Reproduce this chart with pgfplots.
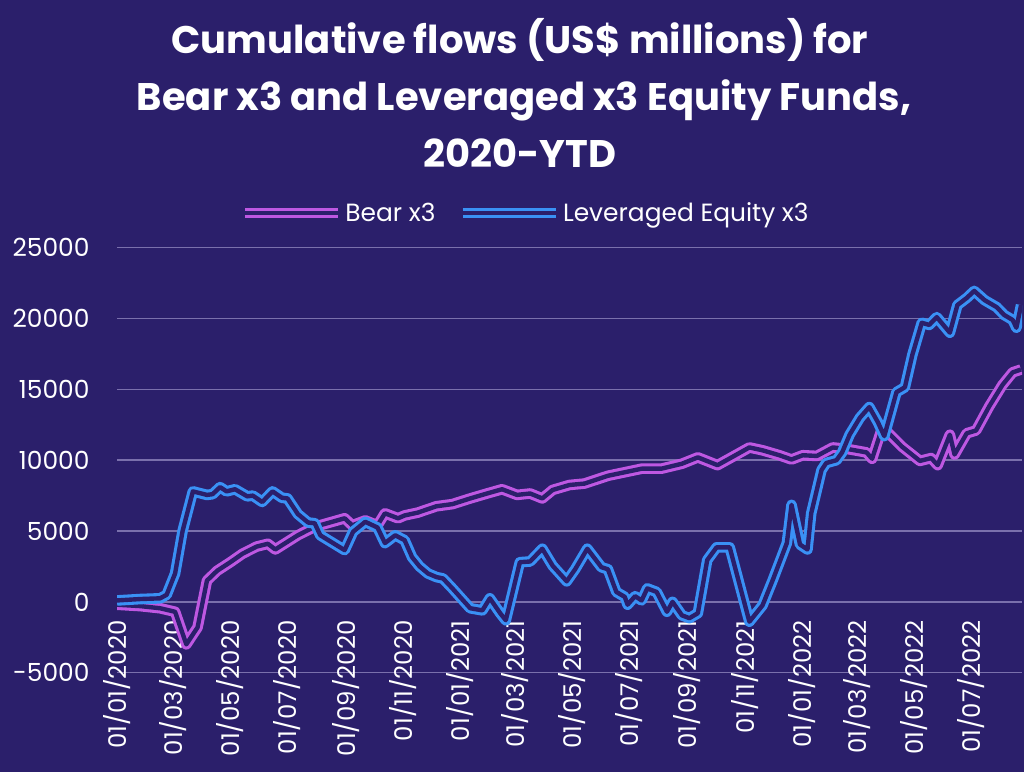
\documentclass[border=0pt]{standalone}
\usepackage{pgfplots}
\pgfplotsset{compat=1.18}
\usepackage{pgfplotstable}
\usepackage{fontspec}
\setmainfont{Poppins}[Ligatures=NoCommon]
\definecolor{bg}{RGB}{43,31,107}
\definecolor{bearc}{RGB}{190,88,226}
\definecolor{levc}{RGB}{58,145,245}
\definecolor{gridc}{RGB}{122,112,172}

\pgfplotstableread{
day value
0 -200
25 -300
46 -450
62 -700
74 -3000
86 -1800
96 1500
107 2200
121 2800
134 3400
149 3900
161 4100
169 3700
193 4700
211 5300
243 5900
251 5400
265 5750
278 5400
286 6250
300 5900
307 6100
321 6300
341 6750
358 6900
377 7300
395 7650
411 7950
427 7550
441 7650
454 7300
465 7900
483 8250
499 8350
524 8900
560 9400
581 9400
603 9750
620 10200
641 9650
656 10200
675 10900
689 10700
707 10350
720 10050
732 10350
747 10300
764 10900
779 10800
800 10550
806 10100
817 12350
838 10950
857 9950
869 10150
876 9650
889 11800
894 10400
907 11900
917 12100
931 13800
945 15300
956 16200
965 16400
}\bear

\pgfplotstableread{
day value
0 100
25 200
46 250
53 500
62 2000
70 5000
81 7800
96 7550
102 7600
110 8100
117 7800
126 7950
139 7450
145 7500
155 7050
166 7800
176 7350
182 7300
193 6200
204 5600
211 5550
217 4700
243 3650
252 4950
265 5650
278 5250
286 4150
297 4700
307 4350
315 3150
323 2500
332 2000
341 1750
348 1650
358 950
377 -450
390 -600
398 250
409 -800
415 -1300
430 2800
441 2850
454 3750
465 2550
480 1450
489 2300
502 3750
517 2450
524 2300
533 700
542 350
545 -200
553 400
560 100
566 950
576 700
587 -700
593 0
603 -950
611 -1150
620 -800
630 2950
640 3850
654 3850
675 -1400
689 -250
700 1550
715 4150
720 6850
729 4050
737 3700
741 6250
752 9300
757 9800
768 10000
774 10550
782 11800
793 13000
803 13750
812 12700
819 11700
832 14800
841 15150
849 17450
859 19700
867 19550
875 20100
889 19000
897 20950
907 21450
915 21950
926 21300
939 20800
947 20250
956 19900
960 19350
965 20950
}\lev

\begin{document}
\begin{tikzpicture}
\useasboundingbox (0,0) rectangle (1024bp,772bp);
\fill[bg] (0,0) rectangle (1024bp,772bp);
\node[anchor=base, text=white, font=\fontsize{38.6}{46}\selectfont\bfseries] at (520bp,718bp) {Cumulative f\kern0pt lows (US\$ millions) for};
\node[anchor=base, text=white, font=\fontsize{38.6}{46}\selectfont\bfseries] at (524bp,661bp) {Bear x3 and Leveraged x3 Equity Funds,};
\node[anchor=base, text=white, font=\fontsize{38.6}{46}\selectfont\bfseries] at (520bp,604bp) {2020-YTD};
\begin{axis}[
  at={(117bp,99.3bp)}, anchor=south west,
  scale only axis, width=905bp, height=425bp,
  xmin=0, xmax=966, ymin=-5000, ymax=25000,
  axis x line=middle, axis y line=left,
  axis line style={draw=none},
  hide obscured x ticks=false, hide obscured y ticks=false,
  scaled y ticks=false, scaled x ticks=false,
  major tick length=0pt,
  ytick={-5000,0,5000,10000,15000,20000,25000},
  yticklabels={-5000,0,5000,10000,15000,20000,25000},
  xtick={0,60,121,182,244,305,366,425,486,547,609,670,731,790,851,912},
  xticklabels={01/01/2020,01/03/2020,01/05/2020,01/07/2020,01/09/2020,01/11/2020,01/01/2021,01/03/2021,01/05/2021,01/07/2021,01/09/2021,01/11/2021,01/01/2022,01/03/2022,01/05/2022,01/07/2022},
  xticklabel style={rotate=90, anchor=east, text=white, font=\fontsize{24.5}{28}\selectfont},
  yticklabel style={anchor=east, text=white, font=\fontsize{25}{29}\selectfont},
  xticklabel shift=15bp,
  yticklabel shift=24bp,
  ymajorgrids, grid style={gridc, line width=1.4bp},
  legend columns=-1,
  legend style={at={(0.451,1.0816)}, anchor=center, draw=none, fill=none, text=white,
    font=\fontsize{25}{29}\selectfont,
    /tikz/every even column/.append style={column sep=20bp}},
  legend image code/.code={\draw[#1, line width=2.4bp, double distance=2.6bp] (0bp,0bp) -- (86bp,0bp);\path (0bp,0bp) -- (93bp,0bp);},
]
\addplot[bearc, line width=3.1bp, double=bg, double distance=4.4bp, line join=round] table[x=day,y=value] {\bear};
\addlegendentry{Bear x3}
\addplot[levc, line width=3.1bp, double=bg, double distance=4.4bp, line join=round] table[x=day,y=value] {\lev};
\addlegendentry{Leveraged Equity x3}
\end{axis}
\end{tikzpicture}
\end{document}
